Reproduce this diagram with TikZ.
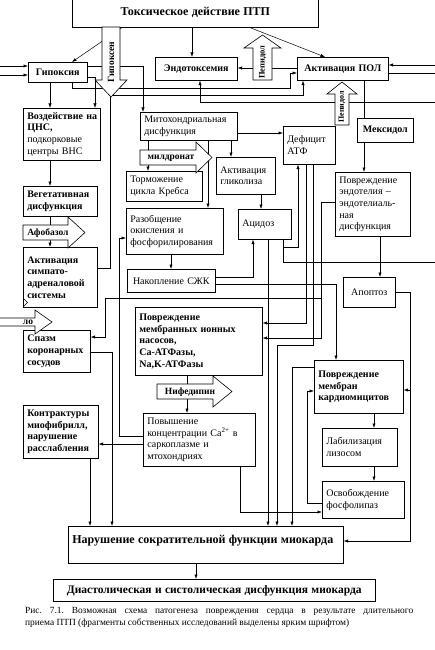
\documentclass[tikz,border=0pt]{standalone}
\usepackage{fontspec}
\setmainfont{Liberation Serif}
\usetikzlibrary{arrows.meta}
\pgfdeclarelayer{bg}
\pgfsetlayers{bg,main}
\tikzset{
  bx/.style={draw, line width=0.6pt, fill=white, inner xsep=4pt, inner ysep=2pt, align=left, font=\fontsize{10}{11.7}\selectfont},
  bxc/.style={bx, align=center},
  ln/.style={line width=0.5pt},
  ar/.style={ln, -{Latex[length=4.5pt,width=3.2pt]}},
  barrow/.style={draw, line width=0.6pt, fill=white, line join=miter},
  bat/.style={font=\bfseries\fontsize{9.5}{11}\selectfont, inner sep=0pt},
}
\newcommand\bxnode[7]{\pgfmathsetmacro\mytw{#5-8}\node[#1, anchor=north west, minimum width=#5pt, minimum height=#6pt, text width=\mytw pt] (#2) at (#3,#4) {#7};}
\begin{document}
\begin{tikzpicture}[x=1pt,y=-1pt]
\useasboundingbox (0,0) rectangle (435,650);
% ---------- boxes ----------
\bxnode{bxc}{tox}{72}{-2}{246}{29}{\fontsize{12}{14}\selectfont\bfseries Токсическое действие ПТП}
\bxnode{bxc}{gip}{28}{62}{59}{20}{\bfseries Гипоксия}
\bxnode{bxc}{endo}{155}{57}{82}{23}{\bfseries Эндотоксемия}
\bxnode{bxc}{pol}{297}{57}{91}{23}{\bfseries Активация~ПОЛ}
\bxnode{bx}{cns}{23}{108}{77}{52}{\textbf{Воздействие~на}\\\textbf{ЦНС,}\\подкорковые\\центры~ВНС}
\bxnode{bx}{veg}{23}{186}{74}{30}{\bfseries Вегетативная\\дисфункция}
\bxnode{bx}{sas}{23}{247}{74}{60}{\bfseries Активация\\симпато-\\адреналовой\\системы}
\bxnode{bx}{spazm}{23}{330}{67}{42}{\bfseries Спазм\\коронарных\\сосудов}
\bxnode{bx}{kontr}{23}{405}{75}{53}{\bfseries Контрактуры\\миофибрилл,\\нарушение\\расслабления}
\bxnode{bx}{mito}{140}{112}{97}{28}{Митохондриальная\\дисфункция}
\bxnode{bx}{tormoz}{126}{171}{76}{30}{Торможение\\цикла~Кребса}
\bxnode{bx}{razob}{126}{208}{97}{46}{Разобщение\\окисления~и\\фосфорилирования}
\bxnode{bxc}{szhk}{127}{269}{88}{23}{Накопление~СЖК}
\bxnode{bx}{glik}{216}{157}{59}{37}{Активация\\гликолиза}
\bxnode{bx}{acid}{238}{209}{53}{30}{Ацидоз}
\bxnode{bx}{defic}{283}{126}{52}{38}{Дефицит\\АТФ}
\bxnode{bxc}{meks}{357}{118}{56}{24}{\bfseries Мексидол}
\bxnode{bx}{endot}{335}{172}{75}{64}{Повреждение\\эндотелия~–\\эндотелиаль-\\ная\\дисфункция}
\bxnode{bxc}{apopt}{343}{277}{52}{30}{Апоптоз}
\bxnode{bx}{nasos}{135}{307}{127}{68}{\bfseries Повреждение\\мембранных~ионных\\насосов,\\Ca-АТФазы,\\Na,K-АТФазы}
\bxnode{bx}{povysh}{143}{413}{112}{53}{Повышение\\концентрации~Ca\textsuperscript{2+}~в\\саркоплазме~и\\мтохондриях}
\bxnode{bx}{kardio}{314}{360}{89}{53}{\bfseries Повреждение\\мембран\\кардиомицитов}
\bxnode{bx}{labil}{322}{428}{75}{38}{Лабилизация\\лизосом}
\bxnode{bx}{osvob}{322}{481}{82}{37}{Освобождение\\фосфолипаз}
\bxnode{bx}{narush}{68}{526}{275}{37}{\fontsize{12}{14}\selectfont\bfseries Нарушение сократительной функции миокарда\\\mbox{}}
\bxnode{bxc}{diast}{53}{579}{322}{22}{\fontsize{11.5}{13}\selectfont\bfseries Диастолическая и систолическая дисфункция миокарда}
% ---------- block arrows ----------
\draw[barrow] (102,27) -- (120,27) -- (120,80) -- (127,80) -- (111,97) -- (95,80) -- (102,80) -- cycle;
\draw[barrow] (253,80) -- (253,48) -- (244,48) -- (262.5,35) -- (281,48) -- (272,48) -- (272,80) -- cycle;
\draw[barrow] (335,125) -- (335,94) -- (327,94) -- (342,82) -- (357,94) -- (349,94) -- (349,125) -- cycle;
\draw[barrow] (140,150) -- (196,150) -- (196,142) -- (212,157.5) -- (196,173) -- (196,165) -- (140,165) -- cycle;
\draw[barrow] (23,225) -- (68,225) -- (68,217) -- (85,232.5) -- (68,248) -- (68,240) -- (23,240) -- cycle;
\draw[barrow] (157,384) -- (213,384) -- (213,376) -- (232,391.5) -- (213,407) -- (213,399) -- (157,399) -- cycle;
\draw[barrow] (-2,318) -- (35,318) -- (35,310) -- (52,322) -- (35,334) -- (35,326) -- (-2,326) -- cycle;
\draw[ln] (23,298) -- (27.5,302.5) -- (23,307);
\node[bat, rotate=90] (gipoksen) at (111,62) {Гипоксен};
\node[bat, rotate=90, font=\bfseries\fontsize{8.5}{10}\selectfont] (pepidol1) at (262.5,62) {Пепидол};
\node[bat, rotate=90, font=\bfseries\fontsize{8}{10}\selectfont] (pepidol2) at (342,107) {Пепидол};
\node[bat] (mildronat) at (171,158) {милдронат};
\node[bat] (afobazol) at (48,233) {Афобазол};
\node[bat] (nifedipin) at (190,392) {Нифедипин};
\node[bat] (lo) at (28,322) {ло};
% ---------- caption ----------
\node[anchor=north west, inner sep=0pt, text width=388pt, align=justify, font=\fontsize{9.4}{12.5}\selectfont] (cap) at (25,607) {\frenchspacing Рис. 7.1. Возможная схема патогенеза повреждения сердца в результате длительного\linebreak приема ПТП (фрагменты собственных исследований выделены ярким шрифтом)};
% ---------- connectors ----------
\begin{pgfonlayer}{bg}
\coordinate (l1) at (0,66);
\coordinate (l2) at (0,75);
\coordinate (r65) at (435,65);
\coordinate (r73) at (435,73);
\coordinate (r102) at (435,102);
\coordinate (r262) at (435,262);
\draw[ar] (122,0 |- tox.south) -- (gip.north -| 72,0);
\draw[ar] (192,0 |- tox.south) -- (endo.north -| 192,0);
\draw[ar] (250,0 |- tox.south) -- (pol.north -| 325,0);
\draw[ar] (pol.west |- 0,68) -- (endo.east |- 0,68);
\draw[ar] (l1) -- (gip.west |- l1);
\draw[ar] (l2) -- (gip.west |- l2);
\draw[ar] (gip.east |- 0,66) -| (mito.north -| 143,0);
\draw[ar] (gip.south -| 50,0) -- (cns.north -| 50,0);
\draw[ar] (gip.east |- 0,77) -| (cns.north -| 95,0);
\draw[ar] (gip.south -| 72,0) -- (72,88) -- (290,88) |- (pol.west |- 0,73);
\draw[ar] (sas.east |- 0,268) -- (110,268) -- (110,95) -- (303,95) -- (pol.south -| 303,0);
\draw[ar] (r102) -- (200,102) -- (endo.south -| 200,0);
\draw[ar] (r65) -- (pol.east |- r65);
\draw[ln] (pol.east |- r73) -- (r73);
\draw[ar] (pol.south -| 364,0) -- (endot.north -| 364,0);
\draw[ar] (cns.south -| 50,0) -- (veg.north -| 50,0);
\draw[ar] (veg.south -| 50,0) -- (sas.north -| 50,0);
\draw[ar] (mito.south -| 148,0) -- (tormoz.north -| 148,0);
\draw[ar] (mito.south -| 208,0) -- (razob.north -| 208,0);
\draw[ar] (mito.south -| 231,0) -- (glik.north -| 231,0);
\draw[ar] (mito.east |- 0,133) -- (defic.west |- 0,133);
\draw[ar] (glik.south -| 261,0) -- (acid.north -| 261,0);
\draw[ar] (razob.south -| 171,0) -- (szhk.north -| 171,0);
\draw[ar] (szhk.east |- 0,277) -| (acid.south -| 253,0);
\draw[ar] (acid.south -| 283,0) -- (283,247) -- (298,247) -- (defic.south -| 298,0);
\draw[ln] (283,247) -- (283,262) -- (r262);
\draw[ar] (acid.south -| 268,0) -- (narush.north -| 268,0);
\draw[ar] (defic.south -| 306,0) -- (306,323) -- (nasos.east |- 0,323);
\draw[ar] (defic.south -| 313,0) -- (313,345) -- (277,345) -- (narush.north -| 277,0);
\draw[ar] (endot.west |- 0,202) -- (321,202) -- (321,298) -- (105,298) |- (spazm.east |- 0,337);
\draw[ar] (321,298) -- (321,338) -- (nasos.east |- 0,338);
\draw[ar] (endot.south -| 380,0) -- (apopt.north -| 380,0);
\draw[ar] (apopt.east |- 0,292) -- (410,292) |- (narush.east |- 0,541);
\draw[ar] (410,390) -- (kardio.east |- 0,390);
\draw[ar] (szhk.east |- 0,284) -| (kardio.north -| 336,0);
\draw[ar] (kardio.south -| 374,0) -- (labil.north -| 374,0);
\draw[ar] (labil.south -| 374,0) -- (osvob.north -| 374,0);
\draw[ar] (osvob.west |- 0,503) -| (307,391) -- (kardio.west |- 0,391);
\draw[ar] (kardio.west |- 0,367) -| (narush.north -| 292,0);
\draw[ar] (povysh.south -| 240,0) |- (osvob.west |- 0,512);
\draw[ar] (povysh.west |- 0,436) -| (119,238) -- (razob.west |- 0,238);
\draw[ar] (povysh.west |- 0,444) -- (kontr.east |- 0,444);
\draw[ar] (nasos.south -| 187,0) -- (povysh.north -| 187,0);
\draw[ar] (kontr.south -| 90,0) -- (narush.north -| 90,0);
\draw[ar] (spazm.east |- 0,352) -| (narush.north -| 112,0);
\draw[ar] (narush.south -| 196,0) -- (diast.north -| 196,0);
\end{pgfonlayer}
\end{tikzpicture}
\end{document}
